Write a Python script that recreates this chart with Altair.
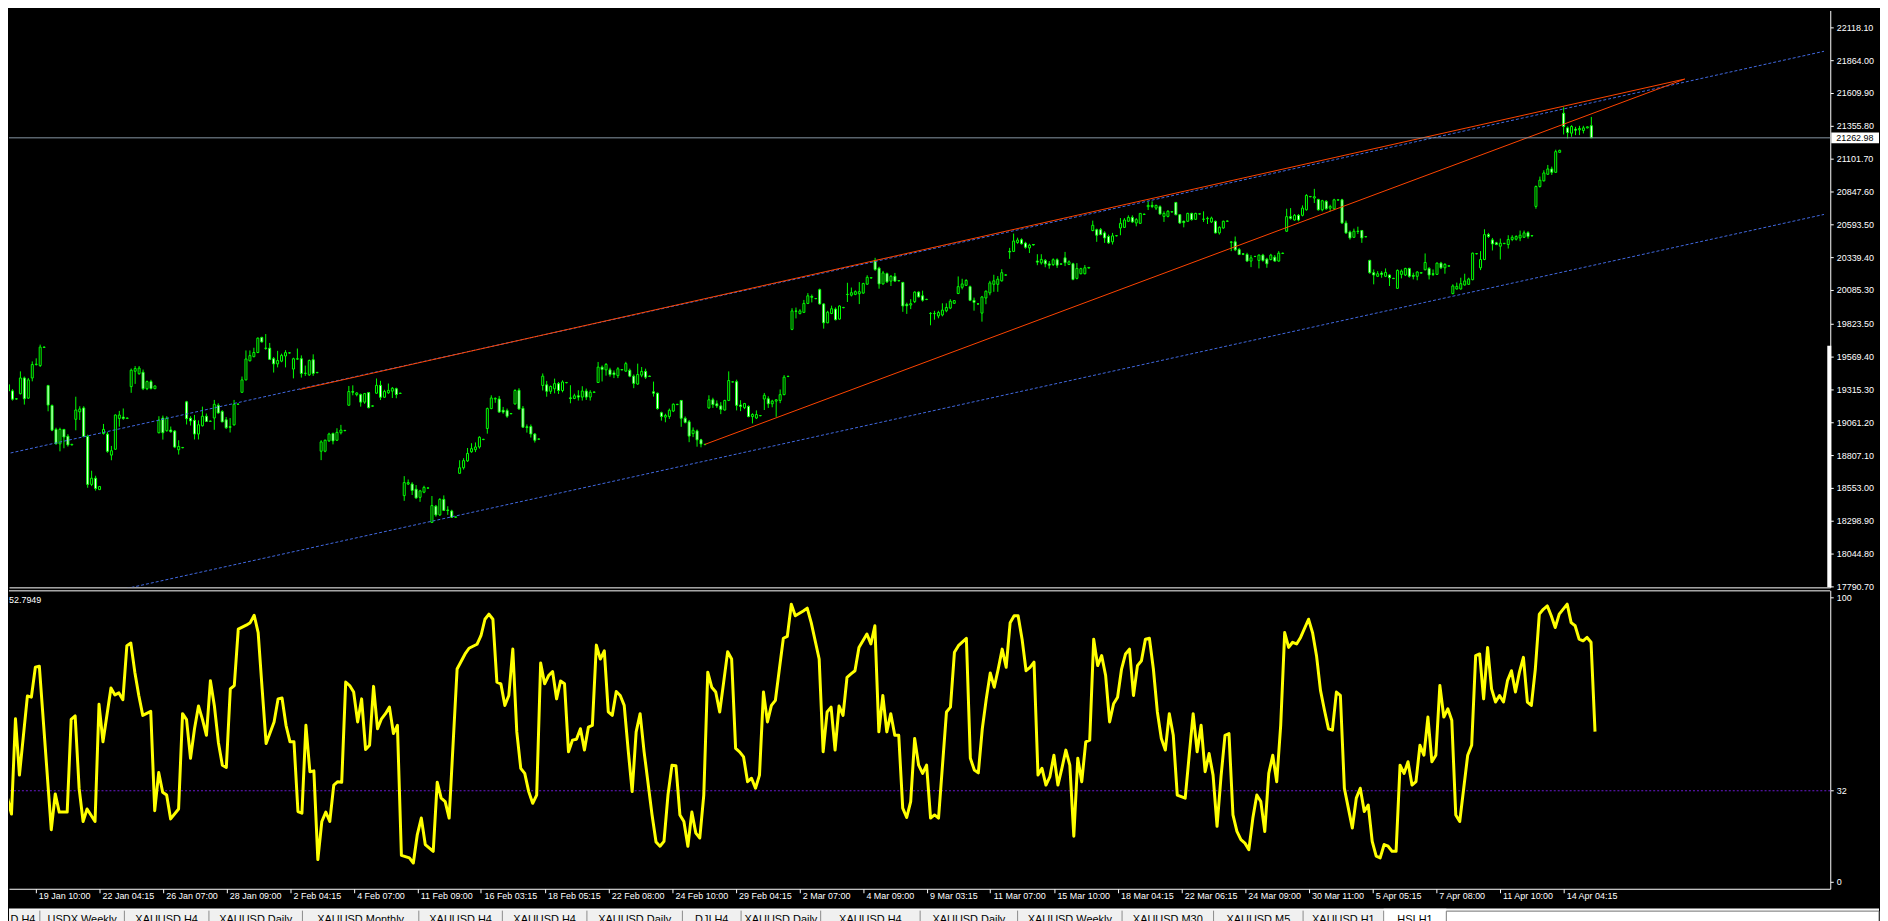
import altair as alt
import pandas as pd

# ---------------- data ----------------
opens = [
    19351, 19304, 19241, 19282, 19404, 19248, 19404, 19508, 19500, 19643,
    19345, 19191, 19006, 18894, 19006, 18953, 18886,
    19084, 19142, 19172, 18951, 18580, 18628, 18540,
    18974, 18969, 18807, 18852, 19091, 19101, 19091,
    19337, 19456, 19437, 19448, 19321, 19376, 19321,
    18980, 19094, 18996, 19001, 18993, 18848, 18864,
    19219, 19092, 19076, 18970, 19034, 19108, 19068,
    19094, 19192, 19144, 19080, 19027, 19041, 19200,
    19293, 19389, 19537, 19569, 19601, 19718, 19635, 19635,
    19553, 19513, 19534, 19574, 19597, 19473, 19550, 19553, 19439, 19428, 19545, 19445,
    18837, 18837, 18917, 18975, 18922, 18980, 18996,
    19193, 19299, 19275, 19275, 19217, 19291, 19186,
    19286, 19347, 19255, 19289, 19302, 19321, 19284,
    18493, 18583, 18583, 18543, 18480, 18520, 18551,
    18286, 18411, 18344, 18464, 18382, 18374, 18326,
    18666, 18709, 18762, 18833, 18849, 18870, 18927,
    19013, 19167, 19241, 19241, 19154, 19151, 19127,
    19203, 19309, 19169, 19026, 19028, 18970, 18930,
    19346, 19351, 19301, 19320, 19360, 19307, 19367,
    19250, 19245, 19266, 19256, 19303, 19256, 19293,
    19369, 19488, 19467, 19467, 19443, 19422, 19467,
    19457, 19463, 19418, 19357, 19426, 19455, 19418,
    19297, 19286, 19135, 19101, 19106, 19148, 19198,
    19230, 19092, 19065, 18973, 18994, 18925, 18888,
    19172, 19235, 19204, 19188, 19156, 19230, 19373,
    19375, 19195, 19174, 19184, 19105, 19094, 19113,
    19241, 19243, 19204, 19225, 19230, 19275, 19415,
    19780, 19923, 19902, 19912, 19981, 20035, 20019,
    20088, 19977, 19831, 19903, 19937, 19860, 19948,
    20050, 20045, 20051, 20056, 20061, 20130, 20178,
    20313, 20254, 20132, 20212, 20154, 20191, 20156,
    20144, 19974, 19969, 19995, 20069, 20040, 20011,
    19903, 19902, 19884, 19892, 19924, 19945, 19982,
    20058, 20106, 20121, 20111, 20005, 19978, 19906,
    20023, 20063, 20129, 20129, 20156, 20200,
    20384, 20384, 20453, 20474, 20448, 20411, 20437,
    20309, 20295, 20314, 20287, 20282, 20319, 20287,
    20334, 20283, 20288, 20175, 20211, 20211, 20255,
    20545, 20552, 20552, 20527, 20499, 20458, 20504,
    20565, 20570, 20617, 20647, 20604, 20601, 20670,
    20730, 20740, 20719, 20730, 20655, 20655, 20689,
    20763, 20668, 20617, 20617, 20678, 20632, 20673,
    20632, 20637, 20612, 20617, 20527, 20565, 20617,
    20457, 20458, 20398, 20365, 20360, 20309, 20344,
    20314, 20355, 20324, 20321, 20339, 20309, 20368,
    20540, 20653, 20627, 20663, 20663, 20706, 20807,
    20797, 20786, 20706, 20771, 20719, 20714, 20781,
    20783, 20604, 20534, 20493, 20540, 20545, 20498,
    20314, 20219, 20191, 20216, 20191, 20201, 20175,
    20098, 20206, 20201, 20252, 20198, 20191, 20216,
    20242, 20252, 20211, 20206, 20293, 20257, 20270,
    20057, 20093, 20093, 20124, 20129, 20165, 20365,
    20257, 20321, 20514, 20473, 20450, 20424, 20444,
    20437, 20476, 20478, 20488, 20493, 20529, 20504,
    20732, 20886, 20930, 20981, 21022, 20996, 21151,
    21453, 21340, 21299, 21330, 21325, 21320, 21340, 21357,
]
highs = [
    19404, 19317, 19249, 19455, 19415, 19404, 19532, 19556, 19662, 19647,
    19351, 19199, 19019, 19019, 19008, 18969, 18894,
    19259, 19185, 19185, 18965, 18686, 18647, 18568,
    19048, 18985, 18878, 19122, 19149, 19168, 19098,
    19477, 19496, 19496, 19469, 19384, 19390, 19346,
    19108, 19113, 19108, 19028, 19001, 18922, 18870,
    19227, 19108, 19118, 19076, 19182, 19129, 19074,
    19234, 19208, 19155, 19102, 19094, 19234, 19206,
    19415, 19617, 19617, 19638, 19718, 19723, 19744, 19675,
    19566, 19614, 19592, 19619, 19603, 19561, 19632, 19579, 19500, 19547, 19587, 19451,
    18922, 18927, 18980, 18980, 19015, 19041, 19002,
    19342, 19347, 19294, 19283, 19288, 19296, 19192,
    19400, 19382, 19313, 19361, 19334, 19329, 19290,
    18644, 18618, 18597, 18575, 18538, 18570, 18557,
    18490, 18421, 18474, 18495, 18411, 18384, 18332,
    18767, 18783, 18862, 18899, 18905, 18953, 18933,
    19175, 19270, 19254, 19265, 19180, 19167, 19133,
    19317, 19325, 19187, 19044, 19044, 18978, 18936,
    19439, 19381, 19346, 19399, 19373, 19386, 19373,
    19348, 19282, 19309, 19340, 19322, 19309, 19299,
    19528, 19501, 19520, 19483, 19462, 19488, 19473,
    19529, 19476, 19431, 19515, 19489, 19476, 19422,
    19376, 19291, 19143, 19127, 19167, 19207, 19204,
    19233, 19106, 19079, 19021, 19005, 18933, 18894,
    19270, 19251, 19230, 19217, 19235, 19455, 19378,
    19391, 19232, 19211, 19192, 19131, 19153, 19116,
    19288, 19262, 19235, 19241, 19315, 19426, 19421,
    19944, 19949, 19936, 20008, 20061, 20050, 20023,
    20096, 19982, 19924, 19964, 19950, 19966, 19954,
    20141, 20104, 20082, 20146, 20141, 20199, 20184,
    20334, 20265, 20233, 20220, 20201, 20217, 20162,
    20146, 19987, 20014, 20075, 20075, 20080, 20017,
    19913, 19924, 19924, 19982, 19982, 20014, 20006,
    20190, 20172, 20169, 20119, 20026, 19980, 20039,
    20081, 20156, 20203, 20193, 20246, 20206,
    20411, 20522, 20490, 20485, 20458, 20443, 20441,
    20362, 20362, 20325, 20309, 20330, 20330, 20290,
    20380, 20314, 20296, 20293, 20257, 20278, 20262,
    20622, 20560, 20565, 20540, 20514, 20527, 20510,
    20642, 20642, 20663, 20663, 20642, 20681, 20676,
    20771, 20771, 20745, 20740, 20694, 20704, 20695,
    20766, 20673, 20622, 20683, 20683, 20683, 20679,
    20694, 20653, 20653, 20622, 20578, 20622, 20623,
    20463, 20499, 20411, 20370, 20373, 20355, 20349,
    20360, 20365, 20334, 20365, 20355, 20386, 20374,
    20714, 20719, 20673, 20673, 20740, 20827, 20813,
    20868, 20791, 20783, 20781, 20745, 20791, 20787,
    20791, 20622, 20545, 20560, 20575, 20550, 20502,
    20319, 20244, 20231, 20231, 20252, 20206, 20179,
    20244, 20244, 20257, 20257, 20219, 20231, 20223,
    20368, 20262, 20244, 20298, 20303, 20293, 20276,
    20129, 20142, 20180, 20211, 20180, 20375, 20371,
    20386, 20555, 20527, 20488, 20458, 20483, 20450,
    20509, 20509, 20509, 20545, 20545, 20540, 20510,
    20894, 20963, 21012, 21053, 21040, 21171, 21171,
    21500, 21351, 21361, 21348, 21356, 21356, 21352, 21425,
]
lows = [
    19293, 19229, 19237, 19277, 19198, 19243, 19378, 19500, 19489, 19637,
    19146, 18992, 18889, 18836, 18860, 18873, 18882,
    18999, 19079, 18946, 18554, 18567, 18532, 18536,
    18966, 18825, 18767, 18849, 19027, 19080, 19086,
    19289, 19358, 19429, 19310, 19310, 19315, 19318,
    18975, 18927, 18988, 18980, 18861, 18811, 18860,
    19044, 19036, 18928, 18928, 19028, 19063, 19064,
    19003, 19128, 19062, 19009, 18982, 19035, 19196,
    19291, 19386, 19532, 19564, 19596, 19678, 19622, 19543,
    19446, 19486, 19526, 19486, 19593, 19401, 19545, 19407, 19420, 19420, 19420, 19441,
    18768, 18829, 18909, 18890, 18917, 18967, 18992,
    19190, 19270, 19262, 19182, 19204, 19169, 19182,
    19281, 19233, 19249, 19281, 19249, 19247, 19280,
    18453, 18575, 18498, 18469, 18445, 18512, 18547,
    18281, 18331, 18336, 18374, 18344, 18320, 18322,
    18663, 18695, 18754, 18825, 18830, 18857, 18923,
    18973, 19162, 19212, 19135, 19127, 19095, 19123,
    19198, 19158, 19018, 18981, 18943, 18904, 18926,
    19307, 19259, 19280, 19285, 19280, 19293, 19363,
    19208, 19240, 19229, 19229, 19234, 19229, 19289,
    19366, 19377, 19422, 19414, 19403, 19403, 19463,
    19452, 19410, 19325, 19351, 19410, 19396, 19412,
    19260, 19159, 19074, 19061, 19087, 19140, 19194,
    19026, 19052, 18907, 18946, 18872, 18867, 18884,
    19166, 19172, 19172, 19124, 19151, 19225, 19370,
    19153, 19147, 19163, 19100, 19052, 19086, 19108,
    19156, 19172, 19177, 19103, 19209, 19270, 19411,
    19774, 19865, 19897, 19907, 19976, 19989, 20014,
    19972, 19786, 19828, 19898, 19850, 19855, 19944,
    19992, 20035, 20045, 19976, 20056, 20125, 20174,
    20233, 20095, 20127, 20140, 20116, 20148, 20152,
    19916, 19900, 19937, 19984, 20027, 19995, 20007,
    19812, 19855, 19866, 19881, 19913, 19937, 19978,
    20053, 20090, 20116, 19999, 19925, 19972, 19840,
    19975, 20044, 20071, 20071, 20150, 20196,
    20326, 20379, 20443, 20437, 20405, 20371, 20429,
    20277, 20282, 20261, 20250, 20271, 20256, 20283,
    20270, 20278, 20160, 20167, 20206, 20206, 20252,
    20540, 20458, 20509, 20450, 20442, 20437, 20500,
    20509, 20565, 20612, 20604, 20578, 20596, 20666,
    20704, 20719, 20704, 20668, 20612, 20647, 20685,
    20663, 20596, 20570, 20612, 20622, 20627, 20669,
    20612, 20596, 20604, 20522, 20514, 20560, 20613,
    20386, 20386, 20355, 20355, 20304, 20262, 20340,
    20252, 20304, 20257, 20314, 20304, 20304, 20364,
    20534, 20630, 20622, 20617, 20655, 20699, 20803,
    20758, 20699, 20694, 20706, 20694, 20704, 20777,
    20596, 20519, 20475, 20488, 20519, 20450, 20493,
    20211, 20129, 20185, 20180, 20185, 20116, 20171,
    20093, 20175, 20193, 20180, 20167, 20160, 20213,
    20237, 20167, 20193, 20201, 20247, 20211, 20266,
    20052, 20088, 20088, 20119, 20124, 20160, 20361,
    20239, 20316, 20488, 20391, 20432, 20321, 20440,
    20406, 20463, 20468, 20463, 20488, 20483, 20500,
    20714, 20878, 20925, 20976, 20976, 20991, 21148,
    21289, 21258, 21271, 21284, 21284, 21297, 21336, 21262.98,
]
closes = [
    19304, 19240, 19243, 19404, 19243, 19389, 19508, 19511, 19643, 19641,
    19194, 19000, 18894, 19006, 18947, 18886, 18890,
    19156, 19164, 18951, 18580, 18628, 18548, 18564,
    19006, 18836, 18841, 19117, 19117, 19091, 19094,
    19464, 19477, 19480, 19321, 19376, 19323, 19342,
    19078, 18980, 19094, 18988, 18869, 18874, 18866,
    19089, 19071, 18970, 19042, 19108, 19068, 19070,
    19200, 19133, 19064, 19019, 19022, 19200, 19202,
    19389, 19551, 19577, 19601, 19712, 19683, 19633, 19548,
    19513, 19539, 19579, 19600, 19599, 19553, 19553, 19439, 19441, 19539, 19439, 19447,
    18909, 18922, 18970, 18917, 18983, 19001, 18998,
    19299, 19294, 19288, 19217, 19283, 19174, 19188,
    19347, 19255, 19300, 19308, 19324, 19276, 19286,
    18594, 18594, 18533, 18475, 18530, 18557, 18553,
    18416, 18344, 18464, 18379, 18379, 18326, 18328,
    18709, 18764, 18820, 18857, 18870, 18945, 18929,
    19167, 19249, 19246, 19140, 19140, 19108, 19129,
    19307, 19164, 19023, 19020, 18970, 18922, 18932,
    19418, 19301, 19338, 19360, 19307, 19373, 19369,
    19245, 19266, 19256, 19303, 19256, 19293, 19295,
    19488, 19470, 19509, 19430, 19430, 19475, 19469,
    19515, 19418, 19362, 19431, 19455, 19410, 19416,
    19286, 19167, 19106, 19114, 19154, 19201, 19200,
    19092, 19060, 18954, 18999, 18925, 18893, 18890,
    19235, 19198, 19188, 19161, 19230, 19384, 19374,
    19192, 19184, 19206, 19105, 19121, 19121, 19112,
    19270, 19204, 19225, 19235, 19275, 19410, 19417,
    19923, 19920, 19923, 19981, 20040, 20029, 20018,
    19977, 19831, 19913, 19940, 19855, 19961, 19950,
    20051, 20064, 20072, 20072, 20135, 20183, 20180,
    20244, 20132, 20217, 20148, 20191, 20154, 20158,
    19961, 19963, 19979, 20069, 20032, 20006, 20013,
    19904, 19904, 19911, 19929, 19950, 19998, 20003,
    20111, 20132, 20159, 20005, 19989, 19976, 20031,
    20076, 20140, 20156, 20169, 20219, 20202,
    20379, 20464, 20472, 20443, 20416, 20432, 20434,
    20301, 20322, 20287, 20277, 20319, 20277, 20285,
    20296, 20303, 20167, 20252, 20250, 20257, 20260,
    20586, 20509, 20514, 20488, 20450, 20504, 20506,
    20601, 20627, 20647, 20612, 20630, 20678, 20672,
    20740, 20732, 20740, 20673, 20678, 20694, 20691,
    20668, 20604, 20607, 20678, 20630, 20678, 20675,
    20634, 20640, 20642, 20527, 20570, 20617, 20619,
    20455, 20396, 20360, 20362, 20309, 20334, 20345,
    20355, 20314, 20288, 20355, 20309, 20370, 20370,
    20653, 20640, 20663, 20627, 20719, 20817, 20809,
    20807, 20706, 20776, 20714, 20732, 20783, 20783,
    20604, 20527, 20488, 20540, 20538, 20488, 20497,
    20219, 20201, 20211, 20206, 20221, 20180, 20173,
    20237, 20231, 20252, 20191, 20191, 20224, 20219,
    20298, 20201, 20206, 20293, 20257, 20283, 20272,
    20116, 20113, 20134, 20155, 20170, 20370, 20367,
    20321, 20514, 20499, 20442, 20437, 20447, 20446,
    20476, 20493, 20499, 20509, 20527, 20499, 20506,
    20886, 20935, 20991, 21022, 20996, 21156, 21166,
    21351, 21304, 21351, 21322, 21335, 21340, 21348, 21262.98,
]

rsi_bar = [
    0, 2, 3, 4, 6, 7, 8, 9, 12, 13, 14, 16, 17, 18, 19, 20, 21, 23, 24, 25,
    27, 28, 29, 30, 31, 32, 33, 34, 35, 37, 38, 39, 40, 41, 42, 44, 45, 46, 47, 48,
    49, 50, 51, 52, 53, 54, 55, 56, 57, 58, 59, 61, 62, 63, 64, 65, 66, 68, 69, 70,
    71, 72, 73, 74, 75, 76, 77, 78, 79, 80, 81, 82, 83, 84, 85, 86, 87, 88, 89, 90,
    91, 92, 93, 94, 95, 96, 97, 98, 99, 100, 102, 103, 104, 105, 106, 108, 109, 110, 111, 112,
    114, 116, 117, 119, 120, 121, 122, 123, 124, 125, 126, 127, 128, 129, 130, 131, 132, 133, 134, 135,
    136, 137, 138, 139, 140, 141, 142, 143, 144, 145, 146, 147, 148, 149, 150, 151, 152, 153, 154, 155,
    156, 157, 158, 159, 160, 161, 163, 164, 165, 166, 167, 168, 169, 170, 171, 172, 173, 174, 175, 176,
    177, 178, 179, 180, 181, 182, 183, 184, 185, 186, 187, 188, 189, 190, 191, 192, 193, 194, 195, 196,
    197, 198, 199, 201, 202, 203, 205, 206, 207, 208, 209, 210, 211, 212, 213, 214, 215, 217, 218, 219,
    220, 221, 222, 223, 224, 225, 226, 227, 228, 229, 230, 231, 232, 233, 234, 235, 236, 237, 238, 239,
    240, 242, 243, 244, 245, 246, 247, 248, 249, 250, 251, 252, 253, 254, 255, 256, 257, 258, 259, 260,
    261, 262, 263, 264, 265, 266, 267, 268, 269, 270, 271, 272, 273, 274, 275, 276, 277, 278, 279, 280,
    281, 282, 283, 284, 285, 286, 287, 288, 289, 290, 291, 292, 293, 294, 295, 297, 298, 299, 300, 301,
    302, 303, 304, 305, 306, 307, 308, 309, 310, 311, 312, 313, 314, 315, 316, 317, 318, 319, 320, 321,
    322, 323, 324, 325, 326, 328, 329, 330, 331, 332, 333, 334, 335, 336, 337, 338, 339, 340, 341, 342,
    343, 344, 345, 346, 347, 348, 349, 350, 351, 352, 353, 354, 355, 356, 357, 358, 359, 360, 361, 362,
    363, 364, 365, 366, 367, 368, 369, 370, 371, 372, 373, 374, 375, 376, 377, 378, 379, 380, 381, 382,
    383, 384, 385, 386, 387, 388, 389, 390, 391, 393, 394, 395, 396, 397, 398, 399, 400,
]
rsi_val = [
    35.2, 23.8, 57.3, 37.5, 65.3, 64.9, 75.4, 75.8, 18.3, 30.9, 24.5, 24.5, 57.1, 58.3, 32.9, 21.2, 25.6, 21.2, 62.4, 49.2,
    68.1, 65.7, 66.4, 64.0, 83.0, 83.9, 73.7, 65.5, 58.5, 59.9, 25.0, 38.4, 31.5, 30.5, 22.1, 25.6, 59.1, 57.0, 43.4, 53.8,
    61.8, 57.1, 51.5, 70.7, 61.8, 49.0, 41.0, 40.2, 67.8, 69.0, 88.8, 90.2, 91.1, 93.7, 87.6, 67.8, 48.6, 56.2, 64.3, 64.6,
    55.0, 49.2, 49.2, 24.7, 24.1, 55.0, 38.7, 39.0, 7.8, 21.2, 24.5, 21.2, 34.0, 35.2, 35.0, 70.2, 69.0, 66.7, 56.2, 64.3,
    46.5, 48.0, 68.7, 53.8, 57.3, 59.1, 61.4, 52.1, 55.0, 9.3, 8.4, 6.6, 16.6, 22.4, 13.1, 10.7, 35.0, 29.4, 28.2, 22.4,
    74.8, 80.1, 82.1, 83.5, 86.5, 92.3, 94.1, 92.3, 70.2, 69.6, 62.0, 65.5, 81.8, 52.7, 39.9, 38.1, 31.7, 27.6, 30.5, 76.9,
    69.6, 72.5, 73.9, 64.3, 70.6, 69.6, 45.7, 49.8, 50.1, 53.8, 46.3, 54.4, 55.0, 83.2, 78.3, 81.2, 59.7, 58.5, 66.9, 65.5,
    62.0, 46.3, 31.7, 52.7, 59.1, 45.7, 23.5, 14.0, 12.5, 14.2, 30.5, 41.0, 40.8, 23.5, 21.2, 12.5, 24.5, 17.1, 15.4, 30.5,
    73.7, 68.4, 66.7, 59.7, 70.2, 80.9, 78.3, 46.9, 45.7, 43.9, 35.2, 36.4, 32.9, 37.5, 66.7, 56.2, 62.0, 63.8, 74.8, 85.6,
    86.3, 97.6, 93.5, 95.2, 96.2, 91.1, 78.3, 45.7, 59.7, 61.4, 46.3, 61.8, 58.5, 71.9, 73.1, 74.2, 82.4, 87.1, 83.6, 90.0,
    52.7, 65.5, 52.7, 59.1, 51.5, 51.5, 25.9, 22.6, 28.2, 50.4, 41.0, 38.1, 41.0, 22.4, 23.5, 22.4, 41.0, 59.7, 61.4, 80.7,
    83.0, 85.6, 43.4, 39.3, 38.3, 53.8, 64.3, 73.4, 68.4, 74.8, 81.8, 75.4, 91.1, 93.5, 93.5, 85.3, 74.2, 75.4, 77.2, 37.5,
    39.9, 34.0, 37.0, 44.5, 34.0, 39.9, 46.3, 41.0, 16.0, 43.4, 35.2, 49.2, 49.8, 85.3, 76.0, 79.5, 72.5, 56.2, 62.6, 64.9,
    74.8, 80.1, 81.8, 65.5, 76.0, 77.7, 85.3, 85.6, 74.8, 59.7, 50.4, 46.3, 59.1, 51.5, 30.5, 29.4, 44.5, 59.1, 45.7, 55.0,
    38.7, 45.1, 37.5, 19.5, 37.0, 51.5, 52.1, 23.5, 17.7, 14.8, 13.6, 11.3, 22.4, 30.5, 28.2, 17.7, 38.1, 44.5, 35.2, 55.0,
    87.6, 82.4, 84.2, 83.6, 85.9, 92.3, 87.6, 79.5, 67.3, 60.3, 53.8, 53.3, 66.7, 65.5, 32.9, 25.9, 18.9, 29.4, 32.9, 24.7,
    27.0, 14.2, 9.0, 8.4, 13.1, 12.5, 10.7, 10.7, 41.0, 38.1, 42.2, 34.0, 35.2, 48.0, 44.5, 57.9, 42.2, 44.5, 69.0, 57.9,
    60.8, 56.8, 23.5, 21.2, 32.9, 44.5, 48.0, 79.5, 80.1, 64.3, 82.4, 67.8, 63.2, 65.5, 63.2, 70.7, 74.2, 66.7, 73.7, 78.9,
    63.2, 62.0, 74.8, 94.1, 95.8, 97.0, 93.5, 89.4, 94.1, 97.6, 91.1, 90.0, 85.3, 84.7, 85.9, 84.2, 52.79,
]

price_ticks = [22118.10, 21864.00, 21609.90, 21355.80, 21101.70, 20847.60, 20593.50,
               20339.40, 20085.30, 19823.50, 19569.40, 19315.30, 19061.20, 18807.10,
               18553.00, 18298.90, 18044.80, 17790.70]
rsi_ticks = [0, 32, 100]
time_tick_labels = ["19 Jan 10:00", "22 Jan 04:15", "26 Jan 07:00", "28 Jan 09:00",
                    "2 Feb 04:15", "4 Feb 07:00", "11 Feb 09:00", "16 Feb 03:15",
                    "18 Feb 05:15", "22 Feb 08:00", "24 Feb 10:00", "29 Feb 04:15",
                    "2 Mar 07:00", "4 Mar 09:00", "9 Mar 03:15", "11 Mar 07:00",
                    "15 Mar 10:00", "18 Mar 04:15", "22 Mar 06:15", "24 Mar 09:00",
                    "30 Mar 11:00", "5 Apr 05:15", "7 Apr 08:00", "11 Apr 10:00",
                    "14 Apr 04:15"]
time_tick_bars = [8 + 16 * k for k in range(len(time_tick_labels))]

# drawn objects: (bar, price) end points
channel_upper = ([-0.7, 458.8], [18815, 21933])
channel_lower = ([20.0, 458.8], [17708, 20670])
trend_upper = ([73.6, 423.6], [19315, 21718])
trend_lower = ([176.0, 423.6], [18890, 21718])
last_price = 21262.98
rsi_level = 32
rsi_text = "52.7949"

tab_names = ["D,H4", "USDX,Weekly", "XAUUSD,H4", "XAUUSD,Daily", "XAUUSD,Monthly",
             "XAUUSD,H4", "XAUUSD,H4", "XAUUSD,Daily", "DJI,H4", "XAUUSD,Daily",
             "XAUUSD,H4", "XAUUSD,Daily", "XAUUSD,Weekly", "XAUUSD,M30", "XAUUSD,M5",
             "XAUUSD,H1", "HSI,H1"]
tab_edges = [8, 39, 124, 209, 303, 420, 504, 589, 685, 744, 824, 924, 1022, 1127,
             1219, 1309, 1390, 1453]

# ---------------- layout / style ----------------
FONT = "Liberation Sans"
LIME = "#00ff00"
W = 1831
H_MAIN = 580
H_RSI = 300
X_DOM = [1.375, 459.125]
Y_DOM = [17783.0, 22249.0]
R_DOM = [-2.45, 102.45]

xs = alt.Scale(domain=X_DOM, nice=False, zero=False)
ys = alt.Scale(domain=Y_DOM, nice=False, zero=False)
rs = alt.Scale(domain=R_DOM, nice=False, zero=False)

ax_main_x = alt.Axis(orient="bottom", labels=False, ticks=False, grid=False, domain=True,
                     domainColor="white", title=None, minExtent=0, maxExtent=0)
ax_main_y = alt.Axis(orient="right", values=price_ticks, format=".2f", grid=False, title=None,
                     domainColor="white", tickColor="white", tickSize=3, labelPadding=3,
                     labelColor="white", labelFont=FONT, labelFontSize=9, labelOverlap=False)

df = pd.DataFrame({"bar": list(range(len(closes))), "open": opens, "high": highs,
                   "low": lows, "close": closes})

X = alt.X("bar:Q", scale=xs, axis=ax_main_x, title=None)

wicks = alt.Chart(df).mark_rule(color=LIME, strokeWidth=1, clip=True).encode(
    x=X, y=alt.Y("low:Q", scale=ys, axis=ax_main_y, title=None), y2="high:Q")

bodies = alt.Chart(df).mark_bar(size=2, stroke=LIME, strokeWidth=1, clip=True).encode(
    x=X, y=alt.Y("open:Q", scale=ys, axis=ax_main_y, title=None), y2="close:Q",
    fill=alt.condition(alt.datum.close < alt.datum.open, alt.value("white"), alt.value("black")))

blue_df = pd.DataFrame({"bar": channel_upper[0] + channel_lower[0],
                        "price": channel_upper[1] + channel_lower[1],
                        "line": ["u", "u", "l", "l"]})
red_df = pd.DataFrame({"bar": trend_upper[0] + trend_lower[0],
                       "price": trend_upper[1] + trend_lower[1],
                       "line": ["u", "u", "l", "l"]})

blue = alt.Chart(blue_df).mark_line(color="#4169e1", strokeWidth=1, strokeDash=[3, 2], clip=True).encode(
    x=X, y=alt.Y("price:Q", scale=ys, axis=ax_main_y, title=None), detail="line:N")
red = alt.Chart(red_df).mark_line(color="#ff4500", strokeWidth=1, clip=True).encode(
    x=X, y=alt.Y("price:Q", scale=ys, axis=ax_main_y, title=None), detail="line:N")

lp_df = pd.DataFrame({"p": [last_price], "t": ["%.2f" % last_price]})
price_line = alt.Chart(lp_df).mark_rule(color="#8896a4", strokeWidth=1).encode(
    y=alt.Y("p:Q", scale=ys, axis=ax_main_y, title=None))
lp_box = alt.Chart(lp_df).transform_calculate(top="datum.p + 42", bot="datum.p - 42").mark_rect(
    color="white").encode(
    x=alt.value(W + 1), x2=alt.value(W + 49),
    y=alt.Y("top:Q", scale=ys, axis=ax_main_y, title=None), y2="bot:Q")
lp_text = alt.Chart(lp_df).mark_text(align="left", baseline="middle", color="black",
                                     font=FONT, fontSize=9).encode(
    x=alt.value(W + 6), y=alt.Y("p:Q", scale=ys, axis=ax_main_y, title=None), text="t:N")
side_df = pd.DataFrame({"a": [19654.0], "b": [Y_DOM[0]]})
side_bar = alt.Chart(side_df).mark_rect(color="white").encode(
    x=alt.value(W - 3), x2=alt.value(W + 1),
    y=alt.Y("a:Q", scale=ys, axis=ax_main_y, title=None), y2="b:Q")

main = alt.layer(wicks, bodies, blue, red, price_line, side_bar, lp_box, lp_text).properties(
    width=W, height=H_MAIN)

# ---------------- RSI panel ----------------
labels_js = "[" + ",".join("'%s'" % s for s in time_tick_labels) + "]"
ax_rsi_x = alt.Axis(orient="bottom", values=time_tick_bars,
                    labelExpr=labels_js + "[round((datum.value - 8) / 16)]",
                    labelAlign="left", labelBaseline="middle", labelOffset=3, labelPadding=3,
                    tickSize=4, tickColor="white", domainColor="white", labelColor="white",
                    labelFont=FONT, labelFontSize=9, grid=False, title=None,
                    labelOverlap=False, labelBound=False, labelFlush=False)
ax_rsi_y = alt.Axis(orient="right", values=rsi_ticks, format="d", grid=False, title=None,
                    domainColor="white", tickColor="white", tickSize=3, labelPadding=3,
                    labelColor="white", labelFont=FONT, labelFontSize=9, labelOverlap=False)

rsi_df = pd.DataFrame({"bar": rsi_bar, "rsi": rsi_val})
rsi_line = alt.Chart(rsi_df).mark_line(color="#ffff00", strokeWidth=3, strokeJoin="round",
                                       clip=True).encode(
    x=alt.X("bar:Q", scale=xs, axis=ax_rsi_x, title=None),
    y=alt.Y("rsi:Q", scale=rs, axis=ax_rsi_y, title=None))
lvl_df = pd.DataFrame({"v": [rsi_level]})
level = alt.Chart(lvl_df).mark_rule(color="#6a1ad0", strokeWidth=1, strokeDash=[2, 2]).encode(
    y=alt.Y("v:Q", scale=rs, axis=ax_rsi_y, title=None))
top_border = alt.Chart(lvl_df).mark_rule(color="white", strokeWidth=1).encode(
    x=alt.value(0), x2=alt.value(W), y=alt.value(0.5))
rsi_label = alt.Chart(pd.DataFrame({"t": [rsi_text]})).mark_text(
    align="left", baseline="middle", color="white", font=FONT, fontSize=9).encode(
    x=alt.value(0), y=alt.value(10), text="t:N")

# tab bar (bottom strip of the terminal window), pixel scale
tx = alt.Scale(domain=[0, 1880], range=[0, 1880])
tabs_df = pd.DataFrame({
    "name": tab_names,
    "x0": [e - 8 for e in tab_edges[:-1]],
    "x1": [e - 8 for e in tab_edges[1:]],
})
tabs_df["xc"] = (tabs_df["x0"] + tabs_df["x1"]) / 2
tabs_df.loc[0, "xc"] = 14
strip_df = pd.DataFrame({"a": [0], "b": [1880], "c": [tab_edges[-1] - 8], "d": [tab_edges[-2] - 8]})
strip = alt.Chart(strip_df).mark_rect(color="#f0f0f0").encode(
    x=alt.X("a:Q", scale=tx, axis=None), x2="b:Q", y=alt.value(320), y2=alt.value(333))
strip_line = alt.Chart(strip_df).mark_rule(color="white", strokeWidth=1).encode(
    x=alt.X("a:Q", scale=tx, axis=None), x2="b:Q", y=alt.value(320.5))
active = alt.Chart(strip_df).mark_rect(color="white").encode(
    x=alt.X("d:Q", scale=tx, axis=None), x2="c:Q", y=alt.value(320), y2=alt.value(333))
box = alt.Chart(strip_df).mark_rect(color="white", stroke="#7a7a7a", strokeWidth=1).encode(
    x=alt.X("c:Q", scale=tx, axis=None), x2="b:Q", y=alt.value(322.5), y2=alt.value(340))
seps = alt.Chart(tabs_df.iloc[:-1]).mark_rule(color="#8a8a8a", strokeWidth=1).encode(
    x=alt.X("x1:Q", scale=tx, axis=None), y=alt.value(322), y2=alt.value(333))
tab_text = alt.Chart(tabs_df).mark_text(baseline="top", color="black", font=FONT,
                                        fontSize=11).encode(
    x=alt.X("xc:Q", scale=tx, axis=None), y=alt.value(325), text="name:N")

rsi = alt.layer(level, rsi_line, top_border, rsi_label, strip, strip_line, active, box,
                seps, tab_text).resolve_scale(x="independent").properties(width=W, height=H_RSI)

chart = alt.vconcat(main, rsi, spacing=3, bounds="flush").properties(
    background="black", padding=0).configure_view(stroke=None)

chart.save("out.html", embed_options={"renderer": "svg", "actions": False})
